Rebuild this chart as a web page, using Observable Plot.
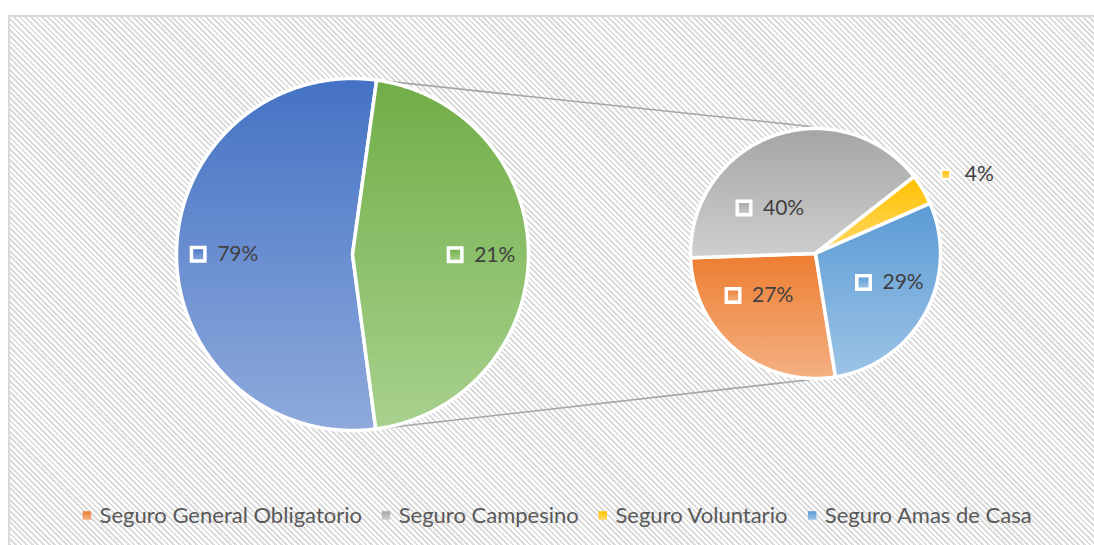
<!DOCTYPE html>
<html><head><meta charset="utf-8">
<script src="https://cdn.jsdelivr.net/npm/d3@7"></script>
<script src="https://cdn.jsdelivr.net/npm/@observablehq/plot@0.6"></script>
<style>
html,body{margin:0;padding:0;background:#fff;}
#wrap{position:relative;width:1094px;height:545px;overflow:hidden;}
#bg{position:absolute;left:8px;top:15px;width:1200px;height:600px;border-top:2px solid #d9d9d9;border-left:2px solid #d9d9d9;
background:repeating-linear-gradient(45deg,#ffffff 0px,#ffffff 2px,#dcdcdc 2px,#dcdcdc 4px);}
#chart{position:absolute;left:0;top:0;}
</style></head><body>
<div id="wrap"><div id="bg"></div><div id="chart"></div></div>
<script>
// ---- data ----
const categories = ["Seguro General Obligatorio", "Seguro Campesino", "Seguro Voluntario", "Seguro Amas de Casa"];
const shares = [27, 40, 4, 29];
const shareLabels = ["27%", "40%", "4%", "29%"];
const mainLabels = ["79%", "21%"];
const mainShares = [54.3, 45.7]; // angular share as drawn in the main pie

// ---- style / layout ----
const subColors = [["#ED7D31", "#F4B183"], ["#A5A5A5", "#CFCFCF"], ["#FFC000", "#FFD966"], ["#5B9BD5", "#9DC3E6"]];
const mainColors = [["#4472C4", "#8FAADC"], ["#70AD47", "#A9D18E"]];
const deg = Math.PI / 180;
const P1 = {cx: 352, cy: 254, r: 176};
const P2 = {cx: 815, cy: 253, r: 125};
const mainLabelFactor = [0.73, 0.73];
const mainNudge = [[0, 0], [0, 0]];
const subLabelFactor = [0.6, 0.6, 1.36, 0.6];
const subNudge = [[-9, -16], [-20, 25], [4, 8], [8, -7]];

const ctx = document.createElement("canvas").getContext("2d");
function tw(s, font) { ctx.font = font; return ctx.measureText(s).width; }
function polar(p, rr, a) { return [p.cx + rr * Math.sin(a), p.cy - rr * Math.cos(a)]; }
function slicePoly(p, a0, a1) {
  const pts = [{x: p.cx, y: p.cy}];
  const n = Math.max(2, Math.ceil((a1 - a0) / (0.5 * deg)));
  for (let i = 0; i <= n; i++) {
    const [x, y] = polar(p, p.r, a0 + (a1 - a0) * i / n);
    pts.push({x, y});
  }
  pts.push({x: p.cx, y: p.cy});
  return pts;
}

const mainArcs = d3.pie().sort(null).startAngle(172.4 * deg).endAngle((172.4 + 360) * deg)(mainShares);
const subArcs = d3.pie().sort(null).startAngle(-189.2 * deg).endAngle(170.8 * deg)(shares);

const marks = [];
// connector lines from the "other" slice to the secondary pie
const green = mainArcs[1];
const conn = [
  [{x: polar(P1, P1.r, green.startAngle)[0], y: polar(P1, P1.r, green.startAngle)[1]}, {x: P2.cx - 5, y: P2.cy - P2.r - 2}],
  [{x: polar(P1, P1.r, green.endAngle)[0], y: polar(P1, P1.r, green.endAngle)[1]}, {x: P2.cx - 4, y: P2.cy + P2.r + 1}]
];
conn.forEach(c => marks.push(Plot.line(c, {x: "x", y: "y", stroke: "#a6a6a6", strokeWidth: 1.6})));

mainArcs.forEach((a, i) => marks.push(Plot.line(slicePoly(P1, a.startAngle, a.endAngle),
  {x: "x", y: "y", fill: `url(#gm${i})`, stroke: "white", strokeWidth: 3.5, strokeLinejoin: "round"})));
subArcs.forEach((a, i) => marks.push(Plot.line(slicePoly(P2, a.startAngle, a.endAngle),
  {x: "x", y: "y", fill: `url(#gs${i})`, stroke: "white", strokeWidth: 3.5, strokeLinejoin: "round"})));

// data labels
const labelFont = "21px Lato";
function addLabel(p, arc, factor, nudge, text, grad, small) {
  const mid = (arc.startAngle + arc.endAngle) / 2;
  const [gx, gy] = polar(p, p.r * factor, mid);
  const w = tw(text, labelFont);
  const mx = gx + nudge[0] - (10.5 + w) / 2;
  const my = gy + nudge[1];
  marks.push(Plot.dot([{x: mx, y: my}], {x: "x", y: "y", symbol: "square", r: small ? 5 : 7.6,
    fill: `url(#${grad})`, stroke: "white", strokeWidth: small ? 2 : 3.5}));
  marks.push(Plot.text([{x: mx + 19, y: my, t: text}], {x: "x", y: "y", text: "t", textAnchor: "start",
    fontSize: 21, fill: "#404040"}));
}
mainArcs.forEach((a, i) => addLabel(P1, a, mainLabelFactor[i], mainNudge[i], mainLabels[i], `gm${i}`, false));
subArcs.forEach((a, i) => addLabel(P2, a, subLabelFactor[i], subNudge[i], shareLabels[i], `gs${i}`, subLabelFactor[i] > 1));

// legend
const legSize = 22;
const legFont = `${legSize}px Lato`;
const widths = categories.map(c => tw(c, legFont));
const total = 4.3 + d3.sum(widths, w => 12.7 + w) + 3 * 24;
let m = 557 - total / 2 + 4.3;
const legItems = categories.map((c, i) => { const it = {x: m, y: 515, c, i}; m += 12.7 + widths[i] + 24; return it; });
legItems.forEach(it => {
  marks.push(Plot.dot([it], {x: "x", y: "y", symbol: "square", r: 4.8, fill: `url(#gs${it.i})`}));
  marks.push(Plot.text([it], {x: d => d.x + 12.7, y: "y", text: "c", textAnchor: "start", fontSize: legSize, fill: "#595959"}));
});

const svg = Plot.plot({
  width: 1094, height: 545, margin: 0,
  x: {domain: [0, 1094], range: [0, 1094], axis: null},
  y: {domain: [0, 545], range: [0, 545], axis: null},
  style: {background: "transparent", fontFamily: "Lato", overflow: "visible"},
  marks
});
const defs = d3.select(svg).insert("defs", ":first-child");
function grad(id, c) {
  const g = defs.append("linearGradient").attr("id", id).attr("x1", 0).attr("y1", 0).attr("x2", 0).attr("y2", 1);
  g.append("stop").attr("offset", "0%").attr("stop-color", c[0]);
  g.append("stop").attr("offset", "100%").attr("stop-color", c[1]);
}
mainColors.forEach((c, i) => grad(`gm${i}`, c));
subColors.forEach((c, i) => grad(`gs${i}`, c));
document.getElementById("chart").appendChild(svg);
</script>
</body></html>
